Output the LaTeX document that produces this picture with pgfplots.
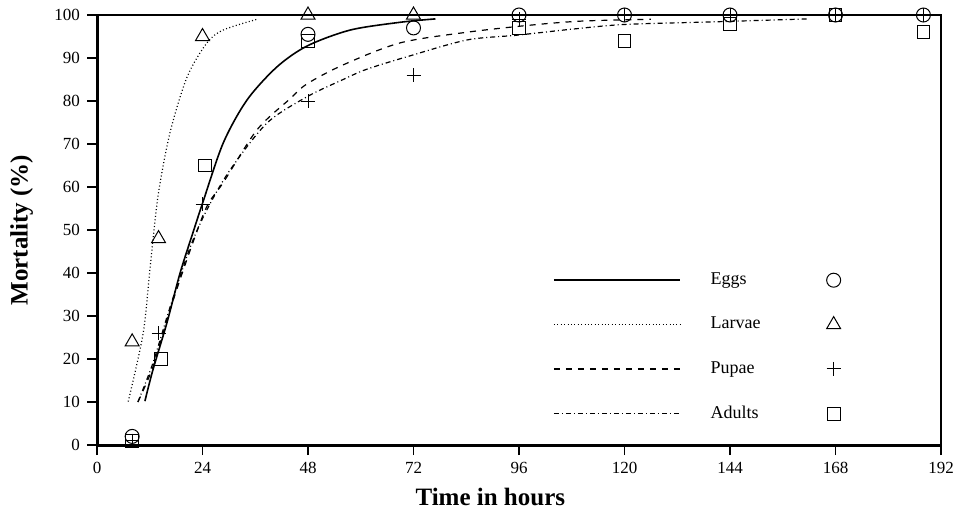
\documentclass[border=0pt]{standalone}
\usepackage{fontspec}
\setmainfont{Liberation Serif}
\usepackage{pgfplots}
\pgfplotsset{compat=1.18}
\pgfplotsset{longline/.style={legend image code/.code={\draw[##1] (0pt,0pt) -- (63pt,0pt);}}}

\begin{document}
\begin{tikzpicture}
\begin{axis}[
  scale only axis,
  width=422pt, height=215pt,
  xmin=0, xmax=192, ymin=0, ymax=100,
  xtick={0,24,...,192}, ytick={0,10,...,100},
  tick pos=left, tick align=outside, major tick length=5pt,
  tick style={line width=0.6pt, black},
  axis line style={line width=0.6pt},
  /pgf/number format/assume math mode=true,
  ticklabel style={font=\fontsize{8.5}{10}\selectfont},
  xlabel={\textbf{Time in hours}},
  ylabel={\textbf{Mortality (\%)}},
  every axis x label/.style={at={(rel axis cs:0.466,0)}, anchor=center, yshift=-26pt,
    font=\fontsize{12.5}{14}\selectfont},
  every axis y label/.style={at={(rel axis cs:0,0.5)}, xshift=-37.7pt, rotate=90, anchor=center,
    font=\fontsize{12.5}{14}\selectfont},
  legend columns=2,
  legend cell align=left,
  legend style={draw=none, fill=none, at={(axis cs:102.3,42)}, anchor=north west,
    font=\fontsize{9}{10}\selectfont, row sep=10.8pt,
    /tikz/every odd column/.append style={column sep=13pt},
    /tikz/every even column/.append style={column sep=31pt}},
  after end axis/.code={
    \draw[line width=1.5pt] (rel axis cs:0,1) -- (rel axis cs:0,0) -- (rel axis cs:1,0);
    \coordinate (O) at (rel axis cs:0,0);
  },
]

% Eggs
\addplot[black, line width=0.8pt, smooth, longline] coordinates {
  (10.9,10.2) (12.7,17.4) (15.9,28.4) (18.9,40) (21.8,49.3) (24.1,56.5)
  (28.7,70.2) (34.1,80.2) (40.9,87.9) (47.8,92.8) (57.6,96.5) (68.9,98.3) (77,99.1)
};
\addlegendentry{Eggs}
\addplot[black, only marks, mark=o, mark size=3.5pt, mark options={line width=0.5pt}] coordinates {
  (8,2) (48,95.5) (72,97) (96,100) (120,100) (144,100) (168,100) (188,100)
};
\addlegendentry{}

% Larvae
\addplot[black, line width=0.6pt, dash pattern=on 0.5pt off 1.2pt, smooth, longline] coordinates {
  (7.1,10.1) (10.5,26) (12.1,41.4) (13.9,58) (16.6,72.6) (20.5,85.6)
  (25,93.5) (28.7,96.5) (36.4,99)
};
\addlegendentry{Larvae}
\addplot[black, only marks, mark=triangle, mark size=4pt, mark options={line width=0.5pt}] coordinates {
  (8,24) (14,48) (24,95) (48,100) (72,100)
};
\addlegendentry{}

% Pupae
\addplot[black, line width=0.6pt, dash pattern=on 3pt off 3pt, smooth, longline] coordinates {
  (9.3,10) (12.7,18.1) (16.6,31.4) (21.2,45.3) (25,55.5) (28.7,61)
  (36.4,73.3) (43.9,80.5) (47.8,84) (56,88.4) (68.9,93.5) (84.2,96)
  (99.2,97.7) (110.6,98.6) (126,99)
};
\addlegendentry{Pupae}
\addplot[black, only marks, mark=+, mark size=3.5pt, mark options={line width=0.5pt}] coordinates {
  (8,1) (14,26) (24,56) (48,80) (72,86) (96,99) (120,100) (144,100) (168,100) (188,100)
};
\addlegendentry{}

% Adults
\addplot[black, line width=0.6pt, dash pattern=on 2.5pt off 1.5pt on 0.5pt off 1.5pt, smooth, longline] coordinates {
  (9.3,10) (12.7,19) (16.6,32) (21.2,46) (25,54.7) (30.3,64) (38.7,74.9)
  (47.8,81) (56,85) (61.4,87.4) (71.2,90.5) (84.2,94.2) (95.5,95.3)
  (108,96.7) (120,97.8) (140,98.4) (162,99.1)
};
\addlegendentry{Adults}
\addplot[black, only marks, mark=square, mark size=3.2pt, mark options={line width=0.5pt}] coordinates {
  (8,1) (14.5,20) (24.5,65) (48,94) (96,97) (120,94) (144,98) (168,100) (188,96)
};
\addlegendentry{}

\end{axis}
\pgfresetboundingbox
\path (O) ++(-48.5pt,-35.5pt) rectangle ++(478pt,258pt);
\end{tikzpicture}
\end{document}
